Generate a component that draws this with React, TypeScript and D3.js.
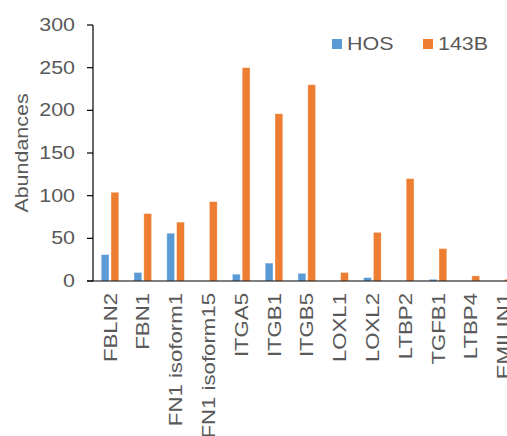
import React from "react";
import * as d3 from "d3";

// Protein abundances in two osteosarcoma cell lines
const categories = [
  "FBLN2",
  "FBN1",
  "FN1 isoform1",
  "FN1 isoform15",
  "ITGA5",
  "ITGB1",
  "ITGB5",
  "LOXL1",
  "LOXL2",
  "LTBP2",
  "TGFB1",
  "LTBP4",
  "EMILIN1",
];
const hosValues = [31, 10, 56, 0, 8, 21, 9, 0, 4, 0, 2, 0, 0];
const b143Values = [104, 79, 69, 93, 250, 196, 230, 10, 57, 120, 38, 6, 2];
const seriesNames = ["HOS", "143B"];
const yTicks = [0, 50, 100, 150, 200, 250, 300];

const W = 507;
const H = 436;
const FONT = "'Liberation Sans', Arial, sans-serif";
const TEXT = "#595959";
const BLUE = "#5B9BD5";
const ORANGE = "#ED7D31";
const FS = 18.5;
// text is drawn slightly widened along its reading direction
const STRETCH = 1.16;
const STRETCH_CAT = 1.2;

export default function App() {
  const plotLeft = 93;
  const plotTop = 25;
  const plotBottom = 281;
  const step = 32.8;

  const x = d3
    .scaleBand<string>()
    .domain(categories)
    .range([plotLeft, plotLeft + step * categories.length])
    .paddingInner(0)
    .paddingOuter(0);
  const y = d3.scaleLinear().domain([0, 300]).range([plotBottom, plotTop]);

  const barW = 7.8;
  const gap = 1;

  const center = (c: string) => (x(c) as number) + x.bandwidth() / 2 + 0.6;

  return (
    <div style={{ position: "fixed", left: 0, top: 0 }}>
      <svg width={W} height={H} style={{ display: "block" }} fontFamily={FONT}>
        <rect width={W} height={H} fill="#fff" />

        {/* bars */}
        {categories.map((c, i) => {
          const cx = center(c);
          return (
            <g key={c}>
              {hosValues[i] > 0 && (
                <rect
                  x={cx - gap - barW}
                  y={y(hosValues[i])}
                  width={barW}
                  height={plotBottom - y(hosValues[i])}
                  fill={BLUE}
                  stroke="#fff"
                  strokeOpacity={0.45}
                  strokeWidth={0.8}
                />
              )}
              {b143Values[i] > 0 && (
                <rect
                  x={cx + gap}
                  y={y(b143Values[i])}
                  width={barW}
                  height={plotBottom - y(b143Values[i])}
                  fill={ORANGE}
                  stroke="#fff"
                  strokeOpacity={0.45}
                  strokeWidth={0.8}
                />
              )}
            </g>
          );
        })}

        {/* y axis */}
        <line x1={plotLeft} x2={plotLeft} y1={plotTop} y2={plotBottom} stroke="#000" strokeWidth={1.2} />
        {yTicks.map((t) => (
          <g key={t}>
            <line x1={plotLeft - 6} x2={plotLeft} y1={y(t)} y2={y(t)} stroke="#000" strokeWidth={1.2} />
            <text
              transform={`translate(75,${y(t)}) scale(${STRETCH},1)`}
              dy="0.32em"
              textAnchor="end"
              fontSize={FS}
              fill={TEXT}
            >
              {t}
            </text>
          </g>
        ))}

        {/* x axis */}
        <line x1={plotLeft - 6} x2={W} y1={plotBottom} y2={plotBottom} stroke="#000" strokeWidth={1.2} />
        {categories.map((c) => (
          <text
            key={c}
            transform={`translate(${center(c)},${293}) rotate(-90) scale(${STRETCH_CAT},1)`}
            dy="0.36em"
            textAnchor="end"
            fontSize={FS}
            fill={TEXT}
          >
            {c}
          </text>
        ))}

        {/* y axis title */}
        <text
          transform={`translate(21,153) rotate(-90) scale(${STRETCH},1)`}
          dy="0.36em"
          textAnchor="middle"
          fontSize={FS}
          fill={TEXT}
        >
          Abundances
        </text>

        {/* legend */}
        {seriesNames.map((name, i) => {
          const lx = i === 0 ? 332 : 423;
          return (
            <g key={name}>
              <rect x={lx} y={39} width={10} height={10} fill={i === 0 ? BLUE : ORANGE} />
              <text
                transform={`translate(${lx + 15},43) scale(${STRETCH},1)`}
                dy="0.36em"
                fontSize={FS}
                fill={TEXT}
              >
                {name}
              </text>
            </g>
          );
        })}
      </svg>
    </div>
  );
}
